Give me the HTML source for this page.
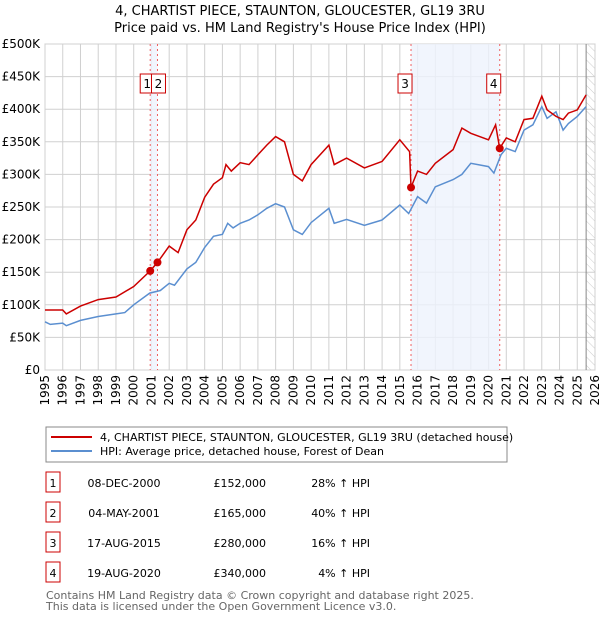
<!DOCTYPE html>
<html><head><meta charset="utf-8">
<style>
body{margin:0;background:#fff;font-family:"Liberation Sans","DejaVu Sans",sans-serif;}
#wrap{position:relative;width:600px;height:620px;overflow:hidden;}
svg text{font-family:"DejaVu Sans","Liberation Sans",sans-serif;}
</style></head>
<body><div id="wrap">
<svg id="chart" width="600" height="620">
<defs><pattern id="hatch" width="6" height="6" patternUnits="userSpaceOnUse" patternTransform="rotate(-45)"><line x1="0" y1="0" x2="0" y2="6" stroke="#ccc" stroke-width="1"/></pattern></defs>
<text x="300" y="15" text-anchor="middle" font-size="13">4, CHARTIST PIECE, STAUNTON, GLOUCESTER, GL19 3RU</text>
<text x="300" y="32" text-anchor="middle" font-size="13">Price paid vs. HM Land Registry's House Price Index (HPI)</text>
<g id="grid"></g><g id="shade"></g><g id="lines"></g><g id="marks"></g>
<rect x="46" y="427" width="461" height="35" fill="#fff" stroke="#888"/>
<line x1="51" y1="437" x2="92" y2="437" stroke="#cc0000" stroke-width="2"/>
<text x="100" y="441" font-size="11">4, CHARTIST PIECE, STAUNTON, GLOUCESTER, GL19 3RU (detached house)</text>
<line x1="51" y1="451" x2="92" y2="451" stroke="#5b8fd0" stroke-width="2"/>
<text x="100" y="455" font-size="11">HPI: Average price, detached house, Forest of Dean</text>
<g id="table" font-size="11"></g>
<text x="46" y="599" font-size="11" fill="#666">Contains HM Land Registry data © Crown copyright and database right 2025.</text>
<text x="46" y="610" font-size="11" fill="#666">This data is licensed under the Open Government Licence v3.0.</text>
</svg></div>
<script>
const yearTicks=[1995,1996,1997,1998,1999,2000,2001,2002,2003,2004,2005,2006,2007,2008,2009,2010,2011,2012,2013,2014,2015,2016,2017,2018,2019,2020,2021,2022,2023,2024,2025,2026];
const valueTicks=[0,50,100,150,200,250,300,350,400,450,500];
const valueLabels=["£0","£50K","£100K","£150K","£200K","£250K","£300K","£350K","£400K","£450K","£500K"];
const hpiYears=[1995,1995.3,1996,1996.2,1997,1998,1999,1999.5,2000,2000.9,2001.5,2002,2002.3,2003,2003.5,2004,2004.5,2005,2005.3,2005.6,2006,2006.5,2007,2007.5,2008,2008.5,2009,2009.5,2010,2011,2011.3,2012,2013,2014,2015,2015.5,2016,2016.5,2017,2018,2018.5,2019,2020,2020.3,2020.7,2021,2021.5,2022,2022.5,2023,2023.3,2023.8,2024.2,2024.5,2025,2025.5];
const hpiValues=[74,70,72,68,76,82,86,88,100,118,122,133,130,155,165,188,205,208,225,218,225,230,238,248,255,250,215,208,226,248,225,231,222,230,253,240,266,256,281,292,300,317,312,302,330,340,335,368,376,404,386,396,368,378,389,404];
const priceYears=[1995,1996,1996.2,1997,1998,1999,2000,2000.93,2001.34,2002,2002.5,2003,2003.5,2004,2004.5,2005,2005.2,2005.5,2006,2006.5,2007,2007.5,2008,2008.5,2009,2009.5,2010,2011,2011.3,2012,2013,2014,2015,2015.55,2015.63,2016,2016.5,2017,2018,2018.5,2019,2020,2020.4,2020.63,2021,2021.5,2022,2022.5,2023,2023.3,2023.8,2024.2,2024.5,2025,2025.5];
const priceValues=[92,92,86,98,108,112,128,152,165,190,180,215,230,265,285,295,315,305,318,315,330,345,358,350,300,290,315,345,315,325,310,320,353,335,280,305,300,317,338,371,363,353,376,340,356,350,384,386,420,399,389,384,394,399,422];
const saleLabels=["1","2","3","4"];
const saleYears=[2000.93,2001.34,2015.63,2020.63];
const saleValues=[152,165,280,340];
const saleDates=["08-DEC-2000","04-MAY-2001","17-AUG-2015","19-AUG-2020"];
const salePrices=["£152,000","£165,000","£280,000","£340,000"];
const saleHpi=["28% ↑ HPI","40% ↑ HPI","16% ↑ HPI","4% ↑ HPI"];
const NS="http://www.w3.org/2000/svg";
const X0=45,X1=595,Y0=370,Y1=44;
const xs=y=>X0+(y-1995)*(X1-X0)/31;
const ys=v=>Y0-v*(Y0-Y1)/500;
function mk(tag,attrs,parent,text){const e=document.createElementNS(NS,tag);for(const k in attrs)e.setAttribute(k,attrs[k]);if(text!==undefined)e.textContent=text;parent.appendChild(e);return e;}
const grid=document.getElementById('grid');
mk('rect',{x:X0,y:Y1,width:X1-X0,height:Y0-Y1,fill:'#fff',stroke:'#ccc'},grid);
yearTicks.forEach(t=>{const l=mk('line',{x1:xs(t),x2:xs(t),y1:Y1,y2:Y0,stroke:'#d0d0d0'},grid);


const tx=mk('text',{x:0,y:0,'font-size':12,'text-anchor':'end',transform:`translate(${xs(t)+4},375) rotate(-90)`},grid,String(t));

});
valueTicks.forEach((v,i)=>{const l=mk('line',{x1:X0,x2:X1,y1:ys(v),y2:ys(v),stroke:'#d0d0d0'},grid);


const tx=mk('text',{x:40,y:ys(v)+4,'font-size':12,'text-anchor':'end'},grid,valueLabels[i]);

});
const shade=document.getElementById('shade');
[[0,1],[2,3]].forEach(p=>{const r=mk('rect',{x:xs(saleYears[p[0]]),y:Y1,width:xs(saleYears[p[1]])-xs(saleYears[p[0]]),height:Y0-Y1,fill:'#eef3fc',opacity:0.8},shade);

});
const hx=xs(2025.5);
const h=mk('rect',{x:hx,y:Y1,width:X1-hx,height:Y0-Y1,fill:'url(#hatch)'},shade);


mk('line',{x1:hx,x2:hx,y1:Y1,y2:Y0,stroke:'#888'},shade);
saleYears.forEach((y,i)=>{const l=mk('line',{x1:xs(y),x2:xs(y),y1:Y1,y2:Y0,stroke:'#f06060','stroke-dasharray':'2,3'},shade);


const bx=i===0?xs(y)-10:(i===1?xs(y)-6:xs(y)-13);
const r=mk('rect',{x:bx,y:74,width:14,height:19,fill:'#fff',stroke:'#cc0000'},shade);


mk('text',{x:bx+7,y:88,'font-size':12,'text-anchor':'middle'},shade,saleLabels[i]);});
const lines=document.getElementById('lines');
const path=(xa,va)=>xa.map((y,i)=>(i?'L':'M')+xs(y).toFixed(1)+','+ys(va[i]).toFixed(1)).join('');
const hp=mk('path',{d:path(hpiYears,hpiValues),fill:'none',stroke:'#5b8fd0','stroke-width':1.5},lines);


const pp=mk('path',{d:path(priceYears,priceValues),fill:'none',stroke:'#cc0000','stroke-width':1.5},lines);


const marks=document.getElementById('marks');
saleYears.forEach((y,i)=>{const c=mk('circle',{cx:xs(y),cy:ys(saleValues[i]),r:4,fill:'#cc0000'},marks);

});
const tb=document.getElementById('table');
saleLabels.forEach((s,i)=>{const y=483+i*30;
const r=mk('rect',{x:46,y:y-11,width:14,height:20,fill:'#fff',stroke:'#cc0000'},tb);


mk('text',{x:53,y:y+4,'text-anchor':'middle'},tb,s);
const d=mk('text',{x:124,y:y+4,'text-anchor':'middle'},tb,saleDates[i]);


const p=mk('text',{x:266,y:y+4,'text-anchor':'end'},tb,salePrices[i]);


const q=mk('text',{x:370,y:y+4,'text-anchor':'end'},tb,saleHpi[i]);

});
</script>
</body></html>
